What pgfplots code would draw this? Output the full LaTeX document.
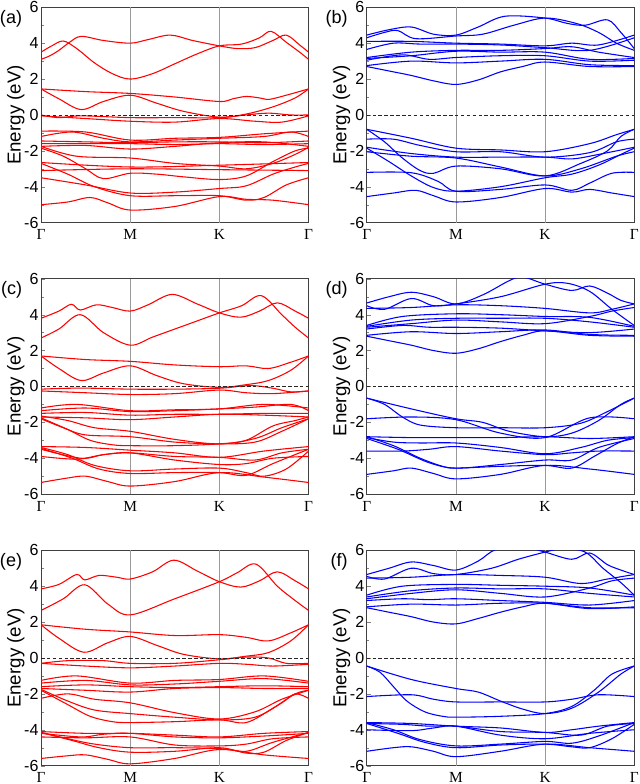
\documentclass[border=0pt]{standalone}
\usepackage{pgfplots}
\pgfplotsset{compat=1.18}
\usepgfplotslibrary{groupplots}
\usepackage{fontspec}
\setmainfont{Liberation Sans}
\newfontfamily\serif{Liberation Serif}
\newcommand{\guides}{%
  \addplot[gray!80, line width=0.5pt] coordinates {(1,-6) (1,6)};
  \addplot[gray!80, line width=0.5pt] coordinates {(2,-6) (2,6)};}
\newcommand{\zeroline}{%
  \addplot[black!85, line width=0.65pt, dash pattern=on 2.6pt off 1.8pt] coordinates {(0,0) (3,0)};}
\begin{document}
\begin{tikzpicture}[
  bR/.style={red, line width=0.8pt, smooth, tension=0.55},
  bB/.style={blue, line width=0.8pt, smooth, tension=0.55},
  plab/.style={anchor=north east, font=\fontsize{13.5}{14}\selectfont, inner sep=0pt}]
\begin{groupplot}[group style={group size=2 by 3, horizontal sep=43.5pt, vertical sep=42pt},
  scale only axis, width=200pt, height=161pt,
  xmin=0, xmax=3, ymin=-6, ymax=6,
  xtick={0,1,2,3}, xticklabels={Γ,M,K,Γ},
  xticklabel style={font=\serif\fontsize{11.5}{12}\selectfont, inner sep=1pt, yshift=-4pt},
  xtick style={draw=none},
  ytick={-6,-4,-2,0,2,4,6}, yticklabels={-6,-4,-2,0,2,4,6},
  minor ytick={-5,-3,-1,1,3,5},
  yticklabel style={font=\fontsize{12}{13}\selectfont, inner sep=1.2pt, xshift=-0.5pt},
  tick pos=left, tick align=inside, major tick length=3pt, minor tick length=2pt,
  ylabel={Energy (eV)}, ylabel style={font=\fontsize{14}{15}\selectfont},
  ylabel shift=-5pt,
  axis line style={black!75, line width=0.7pt},
  clip mode=individual,
]
%================ (a)
\nextgroupplot
\guides
\addplot[bR] coordinates {(0,3.5) (0.12,3.85) (0.25,4.12) (0.4,3.7) (0.6,2.9) (0.8,2.3) (1,2.0) (1.25,2.3) (1.5,2.85) (1.75,3.4) (2,3.85) (2.25,3.95) (2.45,4.3) (2.58,4.66) (2.75,4.05) (2.9,3.5) (3,3.1)};
\addplot[bR] coordinates {(0,3.1) (0.1,3.3) (0.2,3.6) (0.32,4.05) (0.45,4.38) (0.7,4.15) (1,4.0) (1.2,4.2) (1.45,4.45) (1.7,4.15) (2,3.85) (2.2,3.7) (2.4,3.75) (2.6,4.15) (2.75,4.45) (2.9,3.9) (3,3.5)};
\addplot[bR] coordinates {(0,1.45) (0.5,1.3) (1,1.2) (1.5,1.0) (2,0.75) (2.15,0.9) (2.3,1.03) (2.45,0.95) (2.56,0.87) (2.75,1.1) (3,1.45)};
\addplot[bR] coordinates {(0,1.45) (0.2,0.9) (0.45,0.3) (0.7,0.75) (1,1.1) (1.3,0.65) (1.6,0.2) (2,-0.12) (2.3,0.05) (2.6,0.45) (2.85,0.95) (3,1.45)};
\addplot[bR] coordinates {(0,0) (0.2,-0.15) (0.45,-0.05) (1,-0.15) (1.5,-0.15) (2,-0.15) (2.3,0.0) (2.55,0.1) (2.8,0.0) (3,0.0)};
\addplot[bR] coordinates {(0,-0.05) (0.5,-0.2) (1,-0.35) (1.5,-0.4) (2,-0.2) (2.4,-0.35) (2.7,-0.4) (3,-0.05)};
\addplot[bR] coordinates {(0,-0.9) (0.5,-0.95) (1,-1.4) (1.5,-1.3) (2,-1.25) (2.5,-1.05) (3,-0.9)};
\addplot[bR] coordinates {(0,-1.2) (0.35,-0.95) (0.7,-1.3) (1,-1.5) (1.5,-1.4) (2,-1.3) (2.5,-1.2) (2.8,-0.95) (3,-1.2)};
\addplot[bR] coordinates {(0,-1.45) (0.5,-1.5) (1,-1.55) (1.5,-1.5) (2,-1.5) (2.5,-1.55) (3,-1.45)};
\addplot[bR] coordinates {(0,-1.6) (0.5,-1.6) (1,-1.6) (1.5,-1.65) (2,-1.6) (2.5,-1.65) (3,-1.6)};
\addplot[bR] coordinates {(0,-1.75) (0.5,-1.7) (1,-1.9) (1.5,-1.75) (2,-1.55) (2.5,-1.5) (3,-1.75)};
\addplot[bR] coordinates {(0,-1.85) (0.25,-2.3) (0.5,-3.0) (0.7,-3.55) (1,-3.25) (1.3,-3.3) (1.6,-3.45) (2,-3.6) (2.3,-3.4) (2.6,-2.6) (2.85,-2.0) (3,-1.85)};
\addplot[bR] coordinates {(0,-1.75) (0.4,-2.3) (1,-2.4) (1.5,-2.7) (2,-2.85) (2.3,-3.0) (2.6,-2.7) (2.85,-2.2) (3,-1.8)};
\addplot[bR] coordinates {(0,-2.65) (1,-2.9) (2,-2.8) (3,-2.65)};
\addplot[bR] coordinates {(0,-3.1) (1,-3.0) (2,-3.05) (3,-3.1)};
\addplot[bR] coordinates {(0,-2.7) (0.3,-3.3) (0.6,-4.0) (1,-4.5) (1.5,-4.5) (2,-4.5) (2.3,-4.75) (2.5,-4.6) (2.75,-3.9) (3,-3.5)};
\addplot[bR] coordinates {(0,-3.5) (0.5,-3.9) (1,-4.35) (1.5,-4.3) (2,-4.1) (2.3,-3.95) (2.6,-3.3) (2.85,-2.9) (3,-2.7)};
\addplot[bR] coordinates {(0,-5.0) (0.3,-4.85) (0.55,-4.6) (0.75,-4.9) (1,-5.3) (1.5,-5.1) (2,-4.55) (2.3,-4.7) (2.6,-4.75) (3,-5.0)};
\zeroline
\node[plab] at (rel axis cs:0,1) [xshift=-14pt, yshift=-2pt] {(a)};
%================ (b)
\nextgroupplot
\guides
\addplot[bB] coordinates {(0,4.45) (0.25,4.75) (0.5,4.9) (0.75,4.5) (1,4.45) (1.25,4.9) (1.55,5.5) (2,5.4) (2.25,5.1) (2.45,5.0) (2.7,5.3) (2.85,4.6) (3,3.7)};
\addplot[bB] coordinates {(0,4.3) (0.2,4.6) (0.35,4.7) (0.55,4.25) (1,4.4) (1.3,4.5) (1.65,5.0) (2,5.4) (2.35,5.1) (2.6,4.6) (2.8,4.0) (3,3.6)};
\addplot[bB] coordinates {(0,4.1) (0.5,4.1) (1,4.0) (1.5,3.95) (2,3.85) (2.3,4.0) (2.6,3.9) (3,4.45)};
\addplot[bB] coordinates {(0,3.65) (0.3,4.0) (0.6,3.95) (1,3.95) (1.5,3.9) (2,3.75) (2.5,3.6) (3,4.3)};
\addplot[bB] coordinates {(0,3.2) (0.5,3.5) (1,3.6) (1.5,3.6) (2,3.7) (2.3,3.8) (2.6,3.5) (3,3.2)};
\addplot[bB] coordinates {(0,3.15) (0.5,3.3) (1,3.55) (1.5,3.5) (2,3.5) (2.5,3.1) (3,3.15)};
\addplot[bB] coordinates {(0,3.05) (0.4,3.35) (0.7,3.1) (1,3.2) (1.5,3.3) (2,3.3) (2.5,3.0) (3,3.05)};
\addplot[bB] coordinates {(0,2.75) (0.5,3.0) (1,2.9) (1.5,3.0) (2,3.1) (2.5,2.8) (3,2.75)};
\addplot[bB] coordinates {(0,2.7) (0.25,2.45) (0.5,2.2) (0.75,1.9) (1,1.7) (1.25,1.95) (1.5,2.4) (1.75,2.7) (2,2.95) (2.5,2.7) (3,2.7)};
\addplot[bB] coordinates {(0,-0.8) (0.5,-1.3) (1,-1.85) (1.5,-1.95) (2,-2.05) (2.5,-1.6) (2.8,-1.1) (3,-0.8)};
\addplot[bB] coordinates {(0,-0.8) (0.2,-1.5) (0.4,-2.4) (0.6,-3.1) (0.75,-3.25) (1,-2.85) (1.5,-3.0) (2,-3.4) (2.4,-2.7) (2.7,-2.0) (2.85,-1.2) (3,-0.8)};
\addplot[bB] coordinates {(0,-1.35) (0.3,-1.35) (0.6,-1.7) (1,-2.05) (1.5,-2.05) (2,-2.35) (2.5,-2.1) (2.8,-1.5) (3,-1.35)};
\addplot[bB] coordinates {(0,-1.8) (0.5,-2.15) (1,-2.35) (1.5,-2.35) (2,-2.35) (2.3,-2.45) (2.6,-2.2) (3,-1.8)};
\addplot[bB] coordinates {(0,-2.05) (0.5,-2.3) (1,-2.4) (1.5,-2.9) (2,-3.4) (2.4,-3.0) (2.8,-2.3) (3,-2.05)};
\addplot[bB] coordinates {(0,-1.85) (0.25,-2.6) (0.5,-3.4) (0.75,-4.05) (1,-4.25) (1.5,-4.0) (2,-3.5) (2.3,-3.3) (2.6,-2.8) (2.85,-2.2) (3,-1.85)};
\addplot[bB] coordinates {(0,-3.2) (0.5,-3.22) (0.8,-3.7) (1,-4.25) (1.5,-4.15) (2,-3.9) (2.3,-4.2) (2.5,-3.8) (2.75,-3.25) (3,-3.2)};
\addplot[bB] coordinates {(0,-4.55) (0.3,-4.35) (0.55,-4.2) (0.75,-4.5) (1,-4.85) (1.5,-4.6) (2,-4.1) (2.3,-4.3) (2.5,-4.15) (2.75,-4.35) (3,-4.55)};
\zeroline
\node[plab] at (rel axis cs:0,1) [xshift=-14pt, yshift=-2pt] {(b)};
%================ (c)
\nextgroupplot
\guides
\addplot[bR] coordinates {(0,3.8) (0.2,4.2) (0.34,4.58) (0.44,4.26) (0.62,4.55) (0.8,4.4) (1,4.2) (1.2,4.55) (1.47,5.13) (1.75,4.6) (2,4.1) (2.24,3.86) (2.45,4.2) (2.65,4.66) (2.85,4.2) (3,3.8)};
\addplot[bR] coordinates {(0,2.7) (0.2,3.2) (0.44,4.0) (0.7,3.0) (1,2.3) (1.25,2.75) (1.5,3.2) (1.75,3.65) (2,4.1) (2.25,4.5) (2.47,5.06) (2.7,4.0) (2.85,3.3) (3,2.7)};
\addplot[bR] coordinates {(0,1.7) (0.5,1.5) (1,1.4) (1.5,1.2) (2,1.1) (2.3,1.15) (2.55,1.0) (2.8,1.35) (3,1.7)};
\addplot[bR] coordinates {(0,1.7) (0.2,1.0) (0.45,0.33) (0.7,0.75) (1,1.15) (1.3,0.6) (1.6,0.15) (2,-0.05) (2.3,0.1) (2.55,0.33) (2.8,0.9) (3,1.7)};
\addplot[bR] coordinates {(0,-0.15) (0.3,-0.1) (0.6,-0.1) (1,-0.15) (1.5,-0.15) (2,-0.1) (2.35,0.05) (2.6,-0.1) (2.8,-0.3) (3,-0.25)};
\addplot[bR] coordinates {(0,-0.25) (0.5,-0.35) (1,-0.45) (1.5,-0.4) (2,-0.2) (2.3,-0.35) (2.6,-0.4) (3,-0.25)};
\addplot[bR] coordinates {(0,-1.2) (0.4,-1.0) (1,-1.35) (1.5,-1.3) (2,-1.25) (2.5,-1.0) (3,-1.2)};
\addplot[bR] coordinates {(0,-1.35) (0.5,-1.2) (1,-1.4) (1.5,-1.35) (2,-1.25) (2.4,-1.15) (2.8,-1.0) (3,-1.35)};
\addplot[bR] coordinates {(0,-1.5) (0.5,-1.45) (1,-1.6) (1.5,-1.55) (2,-1.55) (2.5,-1.5) (3,-1.5)};
\addplot[bR] coordinates {(0,-1.7) (0.5,-1.75) (1,-1.85) (1.5,-1.7) (2,-1.55) (2.5,-1.6) (3,-1.7)};
\addplot[bR] coordinates {(0,-1.65) (0.3,-1.9) (0.6,-2.3) (1,-2.5) (1.5,-2.95) (2,-3.2) (2.4,-2.9) (2.7,-2.3) (3,-1.8)};
\addplot[bR] coordinates {(0,-1.8) (0.25,-2.3) (0.5,-2.7) (1,-2.8) (1.5,-3.1) (2,-3.2) (2.4,-3.1) (2.7,-2.5) (3,-1.8)};
\addplot[bR] coordinates {(0,-1.75) (0.3,-2.4) (0.55,-3.0) (0.8,-3.25) (1,-3.3) (1.5,-3.3) (2,-3.2) (2.3,-3.0) (2.6,-2.2) (2.85,-1.9) (3,-1.7)};
\addplot[bR] coordinates {(0,-3.35) (0.5,-3.4) (1,-3.55) (1.5,-3.7) (2,-3.95) (2.5,-3.6) (3,-3.35)};
\addplot[bR] coordinates {(0,-3.5) (0.45,-4.0) (0.7,-3.8) (1,-3.7) (1.5,-3.9) (2,-3.95) (2.4,-4.1) (2.7,-3.7) (3,-3.5)};
\addplot[bR] coordinates {(0,-3.9) (0.4,-4.05) (0.7,-3.8) (1,-3.7) (1.5,-4.1) (2,-4.35) (2.3,-4.3) (2.6,-4.0) (3,-3.9)};
\addplot[bR] coordinates {(0,-3.4) (0.3,-3.8) (0.6,-4.4) (1,-4.7) (1.5,-4.6) (2,-4.55) (2.3,-4.8) (2.5,-5.0) (2.75,-4.6) (3,-3.6)};
\addplot[bR] coordinates {(0,-3.45) (0.35,-4.0) (0.65,-4.6) (1,-4.85) (1.5,-4.8) (2,-4.8) (2.3,-4.95) (2.6,-4.3) (3,-3.5)};
\addplot[bR] coordinates {(0,-5.35) (0.3,-5.1) (0.5,-5.0) (0.75,-5.3) (1,-5.55) (1.5,-5.3) (2,-4.8) (2.5,-5.05) (3,-5.35)};
\zeroline
\node[plab] at (rel axis cs:0,1) [xshift=-14pt, yshift=-2pt] {(c)};
%================ (d)
\nextgroupplot
\guides
\addplot[bB] coordinates {(0,4.65) (0.25,5.0) (0.5,5.25) (0.75,5.0) (1,4.6) (1.3,5.1) (1.6,5.9) (1.75,6.1) (2,5.7) (2.3,5.35) (2.5,5.6) (2.7,5.2) (2.85,4.8) (3,4.6)};
\addplot[bB] coordinates {(0,4.5) (0.2,4.3) (0.5,4.9) (0.75,4.5) (1,4.6) (1.5,5.0) (2,5.7) (2.25,5.75) (2.5,5.3) (2.75,4.3) (3,3.4)};
\addplot[bB] coordinates {(0,4.35) (0.5,4.4) (1,4.55) (1.5,4.5) (2,4.35) (2.5,4.1) (2.75,4.3) (3,4.6)};
\addplot[bB] coordinates {(0,3.4) (0.4,3.9) (1,4.05) (1.5,4.0) (2,3.9) (2.5,3.85) (3,3.35)};
\addplot[bB] coordinates {(0,3.35) (0.5,3.7) (1,3.8) (1.5,3.8) (2,3.8) (2.5,3.6) (3,3.3)};
\addplot[bB] coordinates {(0,3.3) (0.5,3.5) (1,3.7) (1.5,3.6) (2,3.5) (2.5,3.9) (2.75,4.2) (3,4.4)};
\addplot[bB] coordinates {(0,3.2) (0.4,3.4) (0.7,3.3) (1,3.3) (1.5,3.25) (2,3.1) (2.5,3.0) (3,3.2)};
\addplot[bB] coordinates {(0,2.85) (0.5,3.05) (1,2.95) (1.5,3.05) (2,3.15) (2.5,2.9) (3,2.85)};
\addplot[bB] coordinates {(0,2.8) (0.25,2.55) (0.5,2.3) (0.75,2.0) (1,1.85) (1.25,2.1) (1.5,2.5) (1.75,2.85) (2,3.1) (2.5,2.85) (3,2.8)};
\addplot[bB] coordinates {(0,-0.65) (0.5,-1.25) (1,-1.8) (1.3,-2.0) (1.6,-2.5) (2,-2.8) (2.3,-2.6) (2.6,-1.9) (2.85,-1.0) (3,-0.65)};
\addplot[bB] coordinates {(0,-0.65) (0.2,-1.0) (0.4,-1.7) (0.6,-2.15) (1,-2.3) (1.5,-2.3) (2,-2.3) (2.4,-2.05) (2.7,-1.4) (3,-0.65)};
\addplot[bB] coordinates {(0,-1.8) (0.5,-1.7) (1,-1.85) (1.5,-2.6) (2,-2.85) (2.5,-1.75) (3,-1.8)};
\addplot[bB] coordinates {(0,-2.8) (0.5,-2.85) (1,-2.85) (1.5,-2.85) (2,-2.8) (2.5,-2.9) (3,-2.8)};
\addplot[bB] coordinates {(0,-2.85) (0.3,-3.1) (0.6,-3.15) (1,-3.15) (1.5,-3.4) (2,-3.75) (2.4,-3.4) (2.7,-3.0) (3,-2.85)};
\addplot[bB] coordinates {(0,-3.6) (0.4,-3.6) (0.7,-3.5) (1,-3.35) (1.5,-3.6) (2,-3.8) (2.3,-3.7) (2.6,-3.6) (3,-3.6)};
\addplot[bB] coordinates {(0,-2.8) (0.3,-3.3) (0.6,-4.0) (0.85,-4.45) (1,-4.55) (1.5,-4.45) (2,-4.4) (2.3,-4.55) (2.55,-3.9) (2.8,-3.2) (3,-2.8)};
\addplot[bB] coordinates {(0,-2.9) (0.35,-3.5) (0.7,-4.25) (1,-4.55) (1.5,-4.35) (2,-4.1) (2.3,-4.1) (2.6,-3.4) (3,-2.9)};
\addplot[bB] coordinates {(0,-4.9) (0.3,-4.7) (0.5,-4.55) (0.75,-4.85) (1,-5.15) (1.5,-4.9) (2,-4.4) (2.5,-4.6) (3,-4.9)};
\zeroline
\node[plab] at (rel axis cs:0,1) [xshift=-14pt, yshift=-2pt] {(d)};
%================ (e)
\nextgroupplot
\guides
\addplot[bR] coordinates {(0,3.85) (0.2,4.1) (0.4,4.65) (0.49,4.35) (0.65,4.6) (0.85,4.5) (1,4.4) (1.25,4.8) (1.49,5.45) (1.75,4.85) (2,4.25) (2.24,3.95) (2.45,4.3) (2.65,4.8) (2.85,4.3) (3,3.85)};
\addplot[bR] coordinates {(0,2.65) (0.25,3.3) (0.49,4.08) (0.75,3.0) (1,2.4) (1.5,3.3) (2,4.25) (2.2,4.75) (2.41,5.23) (2.65,4.0) (2.85,3.2) (3,2.65)};
\addplot[bR] coordinates {(0,1.85) (0.5,1.6) (1,1.45) (1.5,1.25) (2,1.3) (2.3,1.15) (2.55,0.95) (2.8,1.4) (3,1.85)};
\addplot[bR] coordinates {(0,1.85) (0.2,1.1) (0.48,0.32) (0.75,0.85) (1,1.2) (1.3,0.7) (1.6,0.2) (2,-0.05) (2.3,0.1) (2.55,0.3) (2.8,0.95) (3,1.85)};
\addplot[bR] coordinates {(0,-0.3) (0.3,-0.15) (0.7,-0.15) (1,-0.3) (1.5,-0.3) (2,-0.1) (2.3,0.05) (2.55,0.0) (2.75,-0.3) (3,-0.3)};
\addplot[bR] coordinates {(0,-0.3) (0.5,-0.45) (1,-0.55) (1.5,-0.45) (2,-0.3) (2.3,-0.35) (2.6,-0.45) (3,-0.35)};
\addplot[bR] coordinates {(0,-1.25) (0.4,-1.0) (1,-1.4) (1.5,-1.25) (2,-1.2) (2.5,-1.0) (3,-1.3)};
\addplot[bR] coordinates {(0,-1.4) (0.5,-1.25) (1,-1.5) (1.5,-1.45) (2,-1.3) (2.5,-1.15) (3,-1.4)};
\addplot[bR] coordinates {(0,-1.6) (0.5,-1.5) (1,-1.6) (1.5,-1.65) (2,-1.6) (2.5,-1.55) (3,-1.6)};
\addplot[bR] coordinates {(0,-1.7) (0.5,-1.8) (1,-1.9) (1.5,-1.7) (2,-1.65) (2.5,-1.7) (3,-1.7)};
\addplot[bR] coordinates {(0,-2.25) (0.3,-2.0) (0.6,-2.3) (1,-2.5) (1.5,-3.05) (2,-3.4) (2.4,-3.0) (2.7,-2.3) (3,-1.8)};
\addplot[bR] coordinates {(0,-1.75) (0.3,-2.4) (0.6,-2.9) (1,-3.1) (1.5,-3.3) (2,-3.45) (2.4,-3.3) (2.7,-2.5) (2.85,-2.0) (3,-2.25)};
\addplot[bR] coordinates {(0,-1.8) (0.3,-2.6) (0.55,-3.25) (0.8,-3.55) (1,-3.6) (1.5,-3.55) (2,-3.45) (2.3,-3.6) (2.6,-2.8) (2.85,-2.0) (3,-1.8)};
\addplot[bR] coordinates {(0,-4.1) (0.5,-4.2) (1,-4.2) (1.5,-4.3) (2,-4.4) (2.5,-4.2) (3,-4.1)};
\addplot[bR] coordinates {(0,-4.2) (0.45,-4.4) (0.7,-4.25) (1,-4.2) (1.5,-4.4) (2,-4.45) (2.5,-4.35) (3,-4.2)};
\addplot[bR] coordinates {(0,-4.4) (0.5,-4.45) (1,-4.4) (1.5,-4.85) (2,-4.9) (2.3,-4.8) (2.6,-4.5) (3,-4.4)};
\addplot[bR] coordinates {(0,-4.15) (0.3,-4.5) (0.6,-4.8) (1,-5.0) (1.5,-5.0) (2,-5.05) (2.3,-5.2) (2.6,-4.7) (3,-4.15)};
\addplot[bR] coordinates {(0,-4.15) (0.35,-4.6) (0.65,-5.0) (1,-5.25) (1.5,-5.2) (2,-5.0) (2.3,-5.3) (2.5,-5.25) (2.75,-4.6) (3,-4.15)};
\addplot[bR] coordinates {(0,-5.6) (0.3,-5.45) (0.5,-5.4) (0.75,-5.65) (1,-5.9) (1.5,-5.6) (2,-5.1) (2.5,-5.4) (3,-5.6)};
\zeroline
\node[plab] at (rel axis cs:0,1) [xshift=-14pt, yshift=-2pt] {(e)};
%================ (f)
\nextgroupplot
\guides
\addplot[bB] coordinates {(0,4.65) (0.25,5.0) (0.5,5.35) (0.75,5.15) (1,4.9) (1.25,5.4) (1.45,6.05) (1.75,6.2) (2,5.9) (2.3,5.5) (2.5,5.85) (2.7,5.2) (2.85,4.9) (3,4.65)};
\addplot[bB] coordinates {(0,4.55) (0.2,4.4) (0.5,5.0) (0.75,4.7) (1,4.65) (1.4,5.0) (1.7,5.5) (2,5.9) (2.2,6.1) (2.45,5.9) (2.65,5.0) (2.85,4.2) (3,3.5)};
\addplot[bB] coordinates {(0,4.45) (0.5,4.5) (1,4.65) (1.5,4.6) (2,4.5) (2.4,4.15) (2.7,4.4) (3,4.65)};
\addplot[bB] coordinates {(0,3.5) (0.4,4.0) (1,4.1) (1.5,4.05) (2,4.0) (2.5,3.9) (3,3.5)};
\addplot[bB] coordinates {(0,3.4) (0.5,3.75) (1,3.9) (1.5,3.85) (2,3.85) (2.5,3.6) (3,3.4)};
\addplot[bB] coordinates {(0,3.3) (0.5,3.6) (1,3.8) (1.5,3.6) (2,3.4) (2.5,3.9) (2.75,4.3) (3,4.45)};
\addplot[bB] coordinates {(0,3.2) (0.4,3.3) (0.7,3.25) (1,3.3) (1.5,3.2) (2,3.1) (2.5,2.95) (3,3.2)};
\addplot[bB] coordinates {(0,2.85) (0.5,3.0) (1,2.95) (1.5,3.05) (2,3.05) (2.5,2.75) (3,2.85)};
\addplot[bB] coordinates {(0,2.8) (0.25,2.55) (0.5,2.3) (0.75,2.0) (1,1.9) (1.25,2.2) (1.5,2.55) (1.75,2.85) (2,3.05) (2.5,2.8) (3,2.8)};
\addplot[bB] coordinates {(0,-0.45) (0.5,-1.2) (1,-1.7) (1.25,-1.9) (1.5,-2.4) (1.75,-2.85) (2,-3.1) (2.3,-2.8) (2.6,-1.9) (2.85,-0.9) (3,-0.45)};
\addplot[bB] coordinates {(0,-0.45) (0.15,-0.8) (0.3,-1.6) (0.45,-2.4) (0.65,-3.0) (0.85,-3.25) (1,-3.3) (1.5,-3.25) (2,-3.1) (2.3,-2.7) (2.55,-1.8) (2.75,-0.9) (3,-0.45)};
\addplot[bB] coordinates {(0,-2.15) (0.5,-2.05) (0.75,-2.3) (1,-2.45) (1.5,-2.45) (2,-2.45) (2.3,-2.3) (2.6,-2.05) (3,-2.15)};
\addplot[bB] coordinates {(0,-3.6) (0.5,-3.65) (1,-3.8) (1.5,-3.9) (2,-4.15) (2.3,-4.0) (2.6,-3.8) (3,-3.6)};
\addplot[bB] coordinates {(0,-3.65) (0.4,-3.7) (0.7,-3.8) (1,-3.8) (1.5,-4.1) (2,-4.15) (2.4,-4.3) (2.7,-3.8) (3,-3.65)};
\addplot[bB] coordinates {(0,-4.0) (0.5,-4.05) (0.75,-3.9) (1,-3.8) (1.5,-4.3) (2,-4.5) (2.5,-4.2) (3,-4.0)};
\addplot[bB] coordinates {(0,-3.6) (0.3,-4.0) (0.6,-4.55) (1,-4.9) (1.5,-4.8) (2,-4.65) (2.3,-4.75) (2.6,-4.35) (3,-3.6)};
\addplot[bB] coordinates {(0,-3.65) (0.35,-4.2) (0.65,-4.7) (1,-5.0) (1.5,-4.85) (2,-4.8) (2.3,-4.95) (2.5,-5.0) (2.75,-4.5) (3,-3.7)};
\addplot[bB] coordinates {(0,-5.2) (0.3,-5.0) (0.5,-4.95) (0.75,-5.2) (1,-5.5) (1.5,-5.2) (2,-4.8) (2.5,-5.0) (3,-5.2)};
\zeroline
\node[plab] at (rel axis cs:0,1) [xshift=-14pt, yshift=-2pt] {(f)};
\end{groupplot}
\end{tikzpicture}
\end{document}
